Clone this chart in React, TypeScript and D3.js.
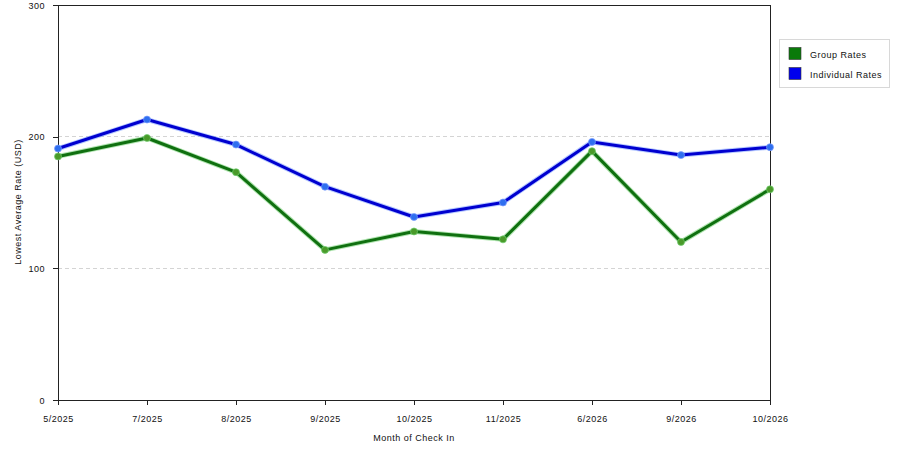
import { useEffect, useRef } from 'react';
import * as d3 from 'd3';

const months = ['5/2025', '7/2025', '8/2025', '9/2025', '10/2025', '11/2025', '6/2026', '9/2026', '10/2026'];
const groupRates = [185, 199, 173, 114, 128, 122, 189, 120, 160];
const individualRates = [191, 213, 194, 162, 139, 150, 196, 186, 192];
const yTicks = [0, 100, 200, 300];

const series = [
    { name: 'Group Rates', values: groupRates, color: '#107010', glow: '#6fcf6f', dot: '#4a9a2a', swatch: '#0a7a0a' },
    { name: 'Individual Rates', values: individualRates, color: '#0000d0', glow: '#7a9cff', dot: '#2f6fef', swatch: '#0000ee' },
];

const FONT = '"Liberation Sans", Arial, sans-serif';
const SPACING = '0.5px';

export default function App() {
    const svgRef = useRef<SVGSVGElement>(null);

    useEffect(() => {
        if (!svgRef.current) return;
        const svg = d3.select(svgRef.current);
        svg.selectAll('*').remove();

        const margin = { top: 5, right: 130, bottom: 50, left: 58 };
        const width = 900, height = 450;
        const innerWidth = width - margin.left - margin.right;
        const innerHeight = height - margin.top - margin.bottom;

        const x = d3.scalePoint<string>().domain(months).range([0, innerWidth]);
        const y = d3.scaleLinear().domain([0, 300]).range([innerHeight, 0]);

        const g = svg.append('g').attr('transform', `translate(${margin.left},${margin.top})`);

        // dashed grid
        g.selectAll('.grid')
            .data([100, 200])
            .enter()
            .append('line')
            .attr('x1', 0)
            .attr('x2', innerWidth)
            .attr('y1', d => y(d))
            .attr('y2', d => y(d))
            .attr('stroke', '#d4d4d4')
            .attr('stroke-dasharray', '4,3')
            .attr('shape-rendering', 'crispEdges');

        // frame top / right
        g.append('line').attr('x1', 0).attr('x2', innerWidth).attr('y1', 0).attr('y2', 0)
            .attr('stroke', '#222').attr('shape-rendering', 'crispEdges');
        g.append('line').attr('x1', innerWidth).attr('x2', innerWidth).attr('y1', 0).attr('y2', innerHeight)
            .attr('stroke', '#222').attr('shape-rendering', 'crispEdges');

        const yAxis = g.append('g')
            .call(d3.axisLeft(y).tickValues(yTicks).tickSize(5).tickSizeOuter(0).tickPadding(8));
        const xAxis = g.append('g')
            .attr('transform', `translate(0,${innerHeight})`)
            .call(d3.axisBottom(x).tickSize(5).tickSizeOuter(0).tickPadding(11));

        [xAxis, yAxis].forEach(ax => {
            ax.selectAll('path, line').attr('stroke', '#222').attr('shape-rendering', 'crispEdges');
            ax.selectAll('text')
                .attr('font-family', FONT)
                .attr('font-size', 9)
                .attr('letter-spacing', SPACING)
                .attr('fill', '#111');
        });
        yAxis.selectAll('text').attr('dy', '0.35em');

        const line = d3.line<number>()
            .x((_d, i) => x(months[i]) as number)
            .y(d => y(d));

        series.forEach(s => {
            g.append('path')
                .datum(s.values)
                .attr('fill', 'none')
                .attr('stroke', s.glow)
                .attr('stroke-opacity', 0.55)
                .attr('stroke-width', 5)
                .attr('stroke-linejoin', 'round')
                .attr('d', line);
            g.append('path')
                .datum(s.values)
                .attr('fill', 'none')
                .attr('stroke', s.color)
                .attr('stroke-width', 3)
                .attr('stroke-linejoin', 'round')
                .attr('d', line);
            g.selectAll(null)
                .data(s.values)
                .enter()
                .append('circle')
                .attr('cx', (_d, i) => x(months[i]) as number)
                .attr('cy', d => y(d))
                .attr('r', 3.5)
                .attr('fill', s.dot)
                .attr('stroke', s.glow)
                .attr('stroke-opacity', 0.7)
                .attr('stroke-width', 1);
        });

        // axis titles
        svg.append('text')
            .attr('x', margin.left + innerWidth / 2)
            .attr('y', 441)
            .attr('text-anchor', 'middle')
            .attr('font-family', FONT)
            .attr('font-size', 9)
            .attr('letter-spacing', SPACING)
            .attr('fill', '#111')
            .text('Month of Check In');
        svg.append('text')
            .attr('transform', `translate(21,202) rotate(-90)`)
            .attr('text-anchor', 'middle')
            .attr('font-family', FONT)
            .attr('font-size', 9)
            .attr('letter-spacing', SPACING)
            .attr('fill', '#111')
            .text('Lowest Average Rate (USD)');

        // legend
        const legend = svg.append('g').attr('transform', 'translate(779,39)');
        legend.append('rect')
            .attr('width', 110).attr('height', 48)
            .attr('fill', '#fff').attr('stroke', '#d8d8d8')
            .attr('shape-rendering', 'crispEdges');
        series.forEach((s, i) => {
            legend.append('rect')
                .attr('x', 10).attr('y', 8.5 + i * 20)
                .attr('width', 12).attr('height', 12)
                .attr('fill', s.swatch)
                .attr('stroke', '#333').attr('stroke-width', 0.6);
            legend.append('text')
                .attr('x', 31).attr('y', 16 + i * 20)
                .attr('dy', '0.35em')
                .attr('font-family', FONT)
                .attr('font-size', 9)
                .attr('letter-spacing', SPACING)
                .attr('fill', '#111')
                .text(s.name);
        });
    }, []);

    return (
        <div style={{ position: 'absolute', left: 0, top: 0, width: 900, height: 450, background: '#fff' }}>
            <svg ref={svgRef} width={900} height={450} style={{ display: 'block' }} />
        </div>
    );
}
